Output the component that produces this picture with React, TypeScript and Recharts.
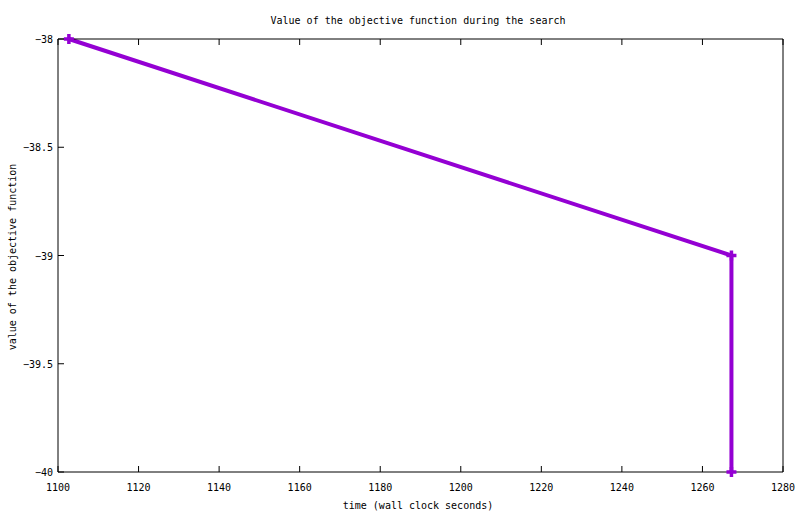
import { Line, LineChart, XAxis, YAxis } from "recharts";

const times = [1102.7, 1267.2, 1267.2];
const objective = [-38, -39, -40];
const xTicks = [1100, 1120, 1140, 1160, 1180, 1200, 1220, 1240, 1260, 1280];
const yTicks = [-40, -39.5, -39, -38.5, -38];

const data = times.map((t, i) => ({ t, v: objective[i] }));

const FONT = "'DejaVu Sans Mono', monospace";
const PURPLE = "#9400d3";
const TICK = 6;

const fmtY = (v: number) => String(v).replace("-", "\u2212");

function BottomTick({ x, y, payload }: any) {
  return (
    <g>
      <line x1={x} y1={y} x2={x} y2={y - TICK} stroke="#000" />
      <text x={x} y={y + 19} textAnchor="middle" fontFamily={FONT} fontSize={10} fill="#000">
        {payload.value}
      </text>
    </g>
  );
}

function TopTick({ x, y }: any) {
  return <line x1={x} y1={y} x2={x} y2={y + TICK} stroke="#000" />;
}

function LeftTick({ x, y, payload }: any) {
  return (
    <g>
      <line x1={x} y1={y} x2={x + TICK} y2={y} stroke="#000" />
      <text x={x - 5} y={y + 4} textAnchor="end" fontFamily={FONT} fontSize={10} fill="#000">
        {fmtY(payload.value)}
      </text>
    </g>
  );
}

function RightTick({ x, y }: any) {
  return <line x1={x} y1={y} x2={x - TICK} y2={y} stroke="#000" />;
}

function Plus({ cx, cy }: any) {
  return (
    <g stroke={PURPLE} strokeWidth={3.5}>
      <line x1={cx - 5} y1={cy} x2={cx + 5} y2={cy} />
      <line x1={cx} y1={cy - 5} x2={cx} y2={cy + 5} />
    </g>
  );
}

export default function App() {
  return (
    <div style={{ position: "absolute", left: 0, top: 0, width: 800, height: 514, background: "#fff" }}>
      <LineChart
        width={800}
        height={514}
        data={data}
        margin={{ top: 0, right: 0, left: 0, bottom: 0 }}
      >
        <XAxis
          xAxisId="b"
          dataKey="t"
          type="number"
          domain={[1100, 1280]}
          ticks={xTicks}
          height={42}
          tickSize={0}
          tickMargin={0}
          tickLine={false}
          tick={<BottomTick />}
          axisLine={{ stroke: "#000" }}
          allowDataOverflow
        />
        <XAxis
          xAxisId="t"
          orientation="top"
          dataKey="t"
          type="number"
          domain={[1100, 1280]}
          ticks={xTicks}
          height={39}
          tickSize={0}
          tickMargin={0}
          tickLine={false}
          tick={<TopTick />}
          axisLine={{ stroke: "#000" }}
        />
        <YAxis
          yAxisId="l"
          type="number"
          domain={[-40, -38]}
          ticks={yTicks}
          width={58}
          tickSize={0}
          tickMargin={0}
          tickLine={false}
          tick={<LeftTick />}
          axisLine={{ stroke: "#000" }}
        />
        <YAxis
          yAxisId="r"
          orientation="right"
          type="number"
          domain={[-40, -38]}
          ticks={yTicks}
          width={17}
          tickSize={0}
          tickMargin={0}
          tickLine={false}
          tick={<RightTick />}
          axisLine={{ stroke: "#000" }}
        />
        <Line
          xAxisId="b"
          yAxisId="l"
          type="linear"
          dataKey="v"
          stroke={PURPLE}
          strokeWidth={4}
          dot={<Plus />}
          activeDot={false}
          isAnimationActive={false}
        />
        <text x={418} y={24} textAnchor="middle" fontFamily={FONT} fontSize={10} fill="#000">
          Value of the objective function during the search
        </text>
        <text x={418} y={509} textAnchor="middle" fontFamily={FONT} fontSize={10} fill="#000">
          time (wall clock seconds)
        </text>
        <text
          x={16}
          y={257}
          textAnchor="middle"
          fontFamily={FONT}
          fontSize={10}
          fill="#000"
          transform="rotate(-90 16 257)"
        >
          value of the objective function
        </text>
      </LineChart>
    </div>
  );
}
